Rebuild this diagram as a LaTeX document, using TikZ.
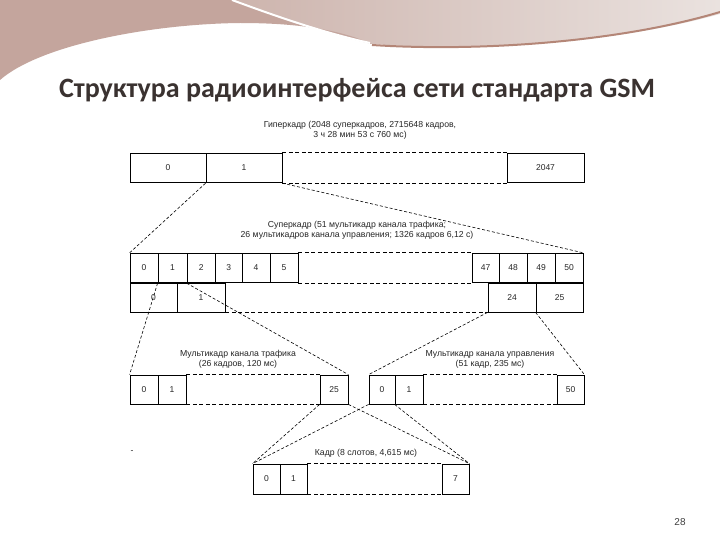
\documentclass[tikz,border=0pt]{standalone}
\usepackage{fontspec}
\setmainfont{Liberation Sans}
\newfontfamily\titlefont{Carlito}
\definecolor{orbrown}{HTML}{C4A59D}
\definecolor{orlightA}{HTML}{CDB4AD}
\definecolor{orlightB}{HTML}{EAE2DF}
\definecolor{orstroke}{HTML}{B48677}
\definecolor{titlecol}{HTML}{3A3230}
\begin{document}
\begin{tikzpicture}[x=1pt,y=-1pt,
  cell/.style={draw, line width=0.8pt, minimum height=29.5pt, inner sep=0pt,
    font=\fontsize{8.5}{9}\selectfont, text=black!85},
  dashedge/.style={line width=0.8pt, dash pattern=on 4pt off 2.5pt},
  conn/.style={line width=0.6pt, dash pattern=on 3pt off 2pt},
  lbl/.style={align=center, font=\fontsize{8.7}{10}\selectfont, text=black!85, inner sep=0pt}]
\useasboundingbox (0,0) rectangle (720,540);
\fill[white] (0,0) rectangle (720,540);
% decorative top
\shade[left color=orlightA, right color=orlightB]
  (232,0) -- (720,0) -- (720,14) .. controls (620,42) and (480,52) .. (372,44)
  .. controls (320,32) and (270,14) .. (232,0) -- cycle;
\fill[orbrown] (0,0) -- (232,0) .. controls (270,14) and (320,32) .. (372,44)
  .. controls (340,30) and (300,23) .. (240,23)
  .. controls (150,24) and (40,45) .. (0,80) -- cycle;
\draw[white, line width=2pt] (232,0) .. controls (270,14) and (320,32) .. (370,43);
\draw[orstroke, line width=2pt] (372,45) .. controls (480,52) and (620,42) .. (720,12);
% title
\node[font=\titlefont\bfseries\fontsize{28}{30}\selectfont, text=titlecol] (title) at (357,90) {Структура радиоинтерфейса сети стандарта GSM};
% hyperframe
\node[lbl] (hlbl) at (360,130) {Гиперкадр (2048 суперкадров, 2715648 кадров,\\3 ч 28 мин 53 с 760 мс)};
\node[cell, minimum width=76pt] (h0) at (168,168) {0};
\node[cell, minimum width=76pt] (h1) at (244,168) {1};
\node[cell, minimum width=77pt] (h2047) at (545.5,168) {2047};
\draw[dashedge] (h1.north east) -- (h2047.north west);
\draw[dashedge] (h1.south east) -- (h2047.south west);
% superframe
\node[lbl] (slbl) at (357,230) {Суперкадр (51 мультикадр канала трафика;\\26 мультикадров канала управления; 1326 кадров 6,12 с)};
\node[cell, minimum width=28pt] (s0) at (144,268) {0};
\node[cell, minimum width=29pt] (s1) at (172.5,268) {1};
\node[cell, minimum width=28.5pt] (s2) at (201.25,268) {2};
\node[cell, minimum width=26.5pt] (s3) at (228.75,268) {3};
\node[cell, minimum width=28pt] (s4) at (256,268) {4};
\node[cell, minimum width=28pt] (s5) at (284,268) {5};
\node[cell, minimum width=27pt] (s47) at (485.5,268) {47};
\node[cell, minimum width=28pt] (s48) at (513,268) {48};
\node[cell, minimum width=28pt] (s49) at (541,268) {49};
\node[cell, minimum width=28pt] (s50) at (569,268) {50};
\draw[dashedge] (s5.north east) -- (s47.north west);
\draw[dashedge] (s5.south east) -- (s47.south west);
\node[cell, minimum width=47pt, minimum height=29pt] (c0) at (153.5,297.5) {0};
\node[cell, minimum width=48pt, minimum height=29pt] (c1) at (201,297.5) {1};
\node[cell, minimum width=48pt, minimum height=29pt] (c24) at (512,297.5) {24};
\node[cell, minimum width=47pt, minimum height=29pt] (c25) at (559.5,297.5) {25};
\draw[dashedge] (c1.south east) -- (c24.south west);
% traffic multiframe
\node[lbl] (tlbl) at (238,359.5) {Мультикадр канала трафика\\(26 кадров, 120 мс)};
\node[cell, minimum width=28pt, minimum height=29pt] (t0) at (144,389.5) {0};
\node[cell, minimum width=28pt, minimum height=29pt] (t1) at (172,389.5) {1};
\node[cell, minimum width=28pt, minimum height=29pt] (t25) at (334,389.5) {25};
\draw[dashedge] (t1.north east) -- (t25.north west);
\draw[dashedge] (t1.south east) -- (t25.south west);
% control multiframe
\node[lbl] (ulbl) at (490,359.5) {Мультикадр канала управления\\(51 кадр, 235 мс)};
\node[cell, minimum width=26pt, minimum height=29pt] (u0) at (382,389.5) {0};
\node[cell, minimum width=28pt, minimum height=29pt] (u1) at (409,389.5) {1};
\node[cell, minimum width=27pt, minimum height=29pt] (u50) at (570.5,389.5) {50};
\draw[dashedge] (u1.north east) -- (u50.north west);
\draw[dashedge] (u1.south east) -- (u50.south west);
% frame
\node[lbl] (flbl) at (366,453) {Кадр (8 слотов, 4,615 мс)};
\node[lbl] (dash) at (132,452) {-};
\node[cell, minimum width=27pt, minimum height=30pt] (f0) at (266.5,479) {0};
\node[cell, minimum width=27pt, minimum height=30pt] (f1) at (293.5,479) {1};
\node[cell, minimum width=27pt, minimum height=30pt] (f7) at (455.5,479) {7};
\draw[dashedge] (f1.north east) -- (f7.north west);
\draw[dashedge] (f1.south east) -- (f7.south west);
% connectors
\draw[conn] (h1.south west) -- (s0.north west);
\draw[conn] (h1.south east) -- (s50.north east);
\draw[conn] (s1.south west) -- (t0.north west);
\draw[conn] (s2.south west) -- (t25.north east);
\draw[conn] (c24.south west) -- (u0.north west);
\draw[conn] (c25.south west) -- (u50.north east);
\draw[conn] (t25.south west) -- (f0.north west);
\draw[conn] (t25.south east) -- (f7.north east);
\draw[conn] (u0.south west) -- (f0.north west);
\draw[conn] (u1.south west) -- (f7.north east);
% page number
\node[font=\fontsize{10}{12}\selectfont, text=black!75] (pnum) at (680,522) {28};
\end{tikzpicture}
\end{document}
